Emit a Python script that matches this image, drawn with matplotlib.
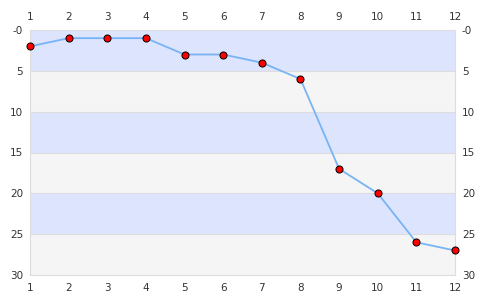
import matplotlib
matplotlib.use("Agg")
import matplotlib.pyplot as plt

x = [1, 2, 3, 4, 5, 6, 7, 8, 9, 10, 11, 12]
y = [2, 1, 1, 1, 3, 3, 4, 6, 17, 20, 26, 27]
y_ticks = [0, 5, 10, 15, 20, 25, 30]
y_labels = ["-0", "5", "10", "15", "20", "25", "30"]

fig = plt.figure(figsize=(4.85, 3.0), dpi=100)
ax = fig.add_axes([30/485, 25/300, 425/485, 245/300])
ax.set_xlim(1, 12)
ax.set_ylim(30, 0)

band_colors = ["#dde4fe", "#f5f5f5"]
for i in range(6):
    ax.axhspan(i*5, i*5+5, color=band_colors[i % 2], zorder=0, lw=0)
for v in y_ticks[1:-1]:
    ax.axhline(v, color="#dddddd", lw=0.8, zorder=1)

ax.plot(x, y, color="#78b4f4", lw=1.3, zorder=2)
ax.scatter(x, y, s=26, facecolor="#ff0000", edgecolor="#000000", lw=0.7, zorder=3, clip_on=False)

for s in ax.spines.values():
    s.set_color("#dddddd")
    s.set_linewidth(0.8)

ax.set_xticks(x)
ax.set_yticks(y_ticks)
ax.set_yticklabels(y_labels)
ax.tick_params(axis="both", length=0, labelsize=7.5, labelcolor="#333333",
               top=True, labeltop=True, right=True, labelright=True, pad=6)
ax.tick_params(axis="y", pad=5)

fig.savefig("out.png", dpi=100)
